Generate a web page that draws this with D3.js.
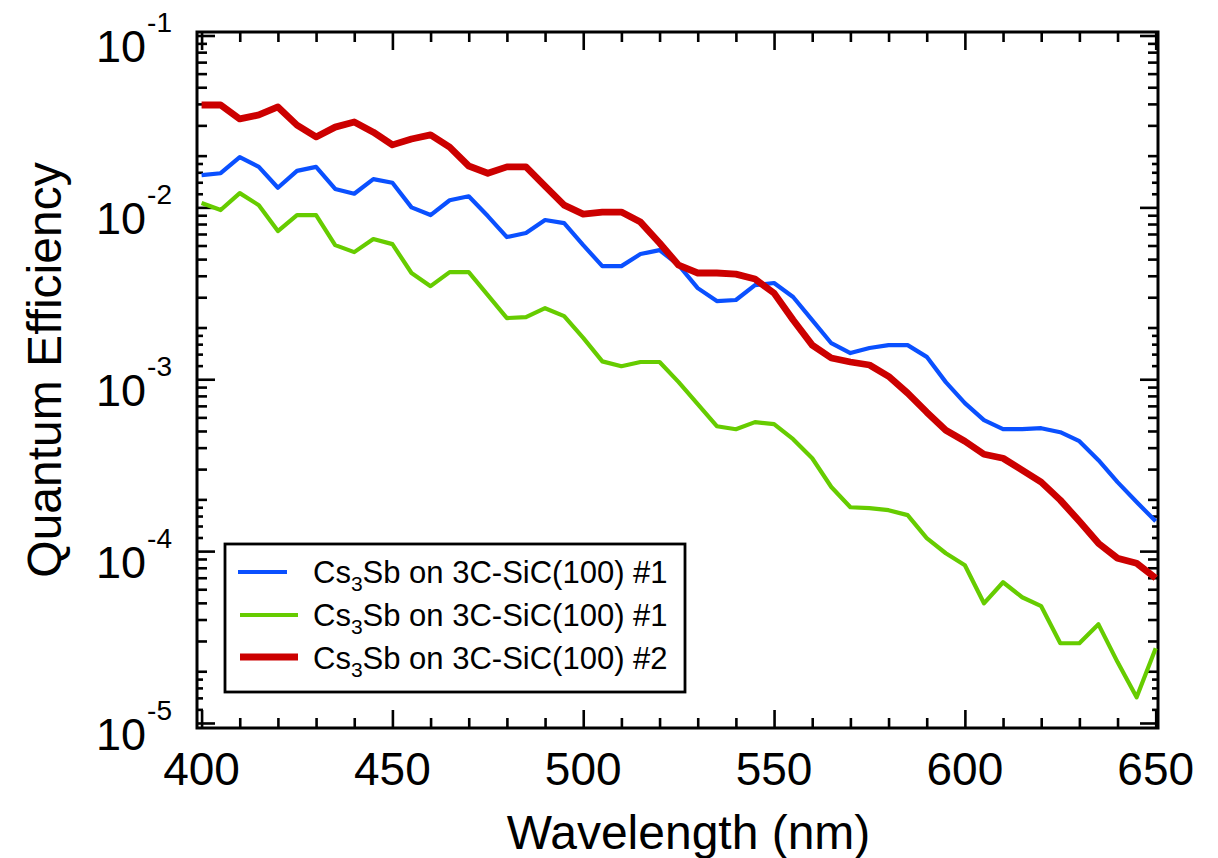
<!DOCTYPE html>
<html><head><meta charset="utf-8">
<script src="https://cdn.jsdelivr.net/npm/d3@7/dist/d3.min.js"></script>
<style>
body{margin:0;background:#fff}
svg{display:block}
text{font-family:"Liberation Sans",Arial,Helvetica,sans-serif;fill:#000}
</style>
</head><body>
<svg id="chart" width="1218" height="858"></svg>
<script>
// ---- data ----
const wavelength = [400,405,410,415,420,425,430,435,440,445,450,455,460,465,470,475,480,485,490,495,
  500,505,510,515,520,525,530,535,540,545,550,555,560,565,570,575,580,585,590,595,
  600,605,610,615,620,625,630,635,640,645,650];

const qeBlue = [0.0154,0.0158,0.0196,0.0172,0.0130,0.0163,0.0172,0.0128,0.0120,0.0146,
  0.0139,0.0100,0.00902,0.0110,0.0116,0.00890,0.00672,0.00709,0.00844,0.00810,
  0.00603,0.00455,0.00455,0.00535,0.00564,0.00461,0.00339,0.00285,0.00289,0.00353,
  0.00363,0.00301,0.00221,0.00162,0.00142,0.00152,0.00158,0.00158,0.00135,0.000962,
  0.000726,0.000578,0.000512,0.000512,0.000519,0.000492,0.000436,0.000338,0.000252,0.000193,
  0.000149];

const qeGreen = [0.0106,0.00965,0.0121,0.0103,0.00728,0.00902,0.00902,0.00603,0.00549,0.00654,
  0.00611,0.00415,0.00348,0.00420,0.00420,0.00309,0.00227,0.00230,0.00259,0.00233,
  0.00174,0.00127,0.00119,0.00126,0.00126,0.000962,0.000716,0.000533,0.000512,0.000563,
  0.000548,0.000448,0.000347,0.000236,0.000180,0.000178,0.000173,0.000162,0.000119,0.0000972,
  0.0000828,0.0000497,0.0000659,0.0000539,0.0000478,0.0000291,0.0000291,0.0000375,0.0000226,0.0000141,
  0.0000272];

const qeRed = [0.0394,0.0394,0.0327,0.0345,0.0384,0.0301,0.0257,0.0293,0.0314,0.0274,
  0.0231,0.0250,0.0264,0.0224,0.0174,0.0158,0.0172,0.0172,0.0133,0.0103,
  0.00914,0.00939,0.00939,0.00821,0.00620,0.00461,0.00415,0.00415,0.00409,0.00383,
  0.00317,0.00221,0.00158,0.00133,0.00126,0.00121,0.00104,0.000830,0.000643,0.000505,
  0.000436,0.000366,0.000347,0.000296,0.000252,0.000198,0.000149,0.000111,0.0000909,0.0000850,
  0.0000696];

const seriesNames = ["Cs3Sb on 3C-SiC(100) #1","Cs3Sb on 3C-SiC(100) #1","Cs3Sb on 3C-SiC(100) #2"];
const seriesSuffix = ["#1","#1","#2"];
const xMajorTicks = [400,450,500,550,600,650];
const xMinorTicks = [410,420,430,440,460,470,480,490,510,520,530,540,560,570,580,590,610,620,630,640];
const yDecadeExponents = [-1,-2,-3,-4,-5];
const xTitle = "Wavelength (nm)";
const yTitle = "Quantum Efficiency";

// ---- layout ----
const L = 197, R = 1158, T = 32, B = 728;
const svg = d3.select("#chart");

const x = d3.scaleLinear().domain([398.8, 650.6]).range([L, R]);
const y = d3.scaleLog().domain([9.35e-6, 0.1048]).range([B, T]);

// tick value sets
const yMajor = yDecadeExponents.map(e => Math.pow(10, e));
const yMinor = [], ySub = [];
for (let e = -6; e <= -1; e++) {
  for (const m of [2,3,4,5,6,7,8,9]) yMinor.push(m * Math.pow(10, e));
  for (const m of [1.2,1.4,1.6,1.8]) ySub.push(m * Math.pow(10, e));
}
const inY = v => v >= y.domain()[0] && v <= y.domain()[1];

function tickGroup(axisFn, scale, values, size, transform) {
  const g = svg.append("g").attr("transform", transform)
    .call(axisFn(scale).tickValues(values.filter(v => scale === y ? inY(v) : true))
      .tickSize(size).tickFormat(""));
  g.select(".domain").remove();
  g.selectAll(".tick line").attr("stroke", "#000").attr("stroke-width", 2.6);
  return g;
}
// bottom (inward => negative size)
tickGroup(d3.axisBottom, x, xMajorTicks, -18, `translate(0,${B})`);
tickGroup(d3.axisBottom, x, xMinorTicks, -10, `translate(0,${B})`);
// top
tickGroup(d3.axisTop, x, xMajorTicks, -18, `translate(0,${T})`);
tickGroup(d3.axisTop, x, xMinorTicks, -10, `translate(0,${T})`);
// left
tickGroup(d3.axisLeft, y, yMajor, -18, `translate(${L},0)`);
tickGroup(d3.axisLeft, y, yMinor, -10, `translate(${L},0)`);
tickGroup(d3.axisLeft, y, ySub, -6, `translate(${L},0)`);
// right
tickGroup(d3.axisRight, y, yMajor, -18, `translate(${R},0)`);
tickGroup(d3.axisRight, y, yMinor, -10, `translate(${R},0)`);
tickGroup(d3.axisRight, y, ySub, -6, `translate(${R},0)`);

// frame
svg.append("rect").attr("x", L).attr("y", T).attr("width", R - L).attr("height", B - T)
  .attr("fill", "none").attr("stroke", "#000").attr("stroke-width", 3);

// x tick labels
svg.append("g").selectAll("text").data(xMajorTicks).join("text")
  .attr("x", d => x(d)).attr("y", 785)
  .attr("text-anchor", "middle").attr("font-size", 46)
  .text(d => d);

// y tick labels 10^n
const yl = svg.append("g").selectAll("text").data(yDecadeExponents).join("text")
  .attr("x", 172).attr("y", d => y(Math.pow(10, d)) + 27)
  .attr("text-anchor", "end").attr("font-size", 45);
yl.append("tspan").text("10");
yl.append("tspan").attr("dy", -30).attr("dx", 1).attr("font-size", 28).text(d => String(d));

// axis titles
svg.append("text").attr("x", (L + R) / 2 + 11).attr("y", 849)
  .attr("text-anchor", "middle").attr("font-size", 48).text(xTitle);
svg.append("text").attr("transform", `translate(61,${370}) rotate(-90)`)
  .attr("text-anchor", "middle").attr("font-size", 48).text(yTitle);

// series
svg.append("clipPath").attr("id", "plotclip").append("rect")
  .attr("x", L).attr("y", T).attr("width", R - L).attr("height", B - T);

const series = [
  {name: seriesNames[0], values: qeBlue, color: "#0a50ff", width: 4.2},
  {name: seriesNames[1], values: qeGreen, color: "#66cc00", width: 4.2},
  {name: seriesNames[2], values: qeRed, color: "#cc0000", width: 6.8}
];
const line = d3.line().x(d => x(d[0])).y(d => y(d[1]));
const plot = svg.append("g").attr("clip-path", "url(#plotclip)");
series.forEach(s => {
  plot.append("path")
    .datum(wavelength.map((w, i) => [w, s.values[i]]))
    .attr("d", line).attr("fill", "none")
    .attr("stroke", s.color).attr("stroke-width", s.width)
    .attr("stroke-linejoin", "round");
});

// legend
const lg = svg.append("g");
lg.append("rect").attr("x", 225).attr("y", 544).attr("width", 460).attr("height", 148)
  .attr("fill", "#fff").attr("stroke", "#000").attr("stroke-width", 2.8);
const legendRows = [
  {x1: 238, x2: 287, ly: 572, ty: 583},
  {x1: 240, x2: 298, ly: 615, ty: 626},
  {x1: 240, x2: 298, ly: 657, ty: 669}
];
series.forEach((s, i) => {
  const r = legendRows[i];
  lg.append("line").attr("x1", r.x1).attr("x2", r.x2).attr("y1", r.ly).attr("y2", r.ly)
    .attr("stroke", s.color).attr("stroke-width", s.width);
  const t = lg.append("text").attr("x", 313).attr("y", r.ty).attr("font-size", 31);
  t.append("tspan").text("Cs");
  t.append("tspan").attr("dy", 8).attr("font-size", 21).text("3");
  t.append("tspan").attr("dy", -8).text("Sb on 3C-SiC(100) " + seriesSuffix[i]);
});
</script>
</body></html>
